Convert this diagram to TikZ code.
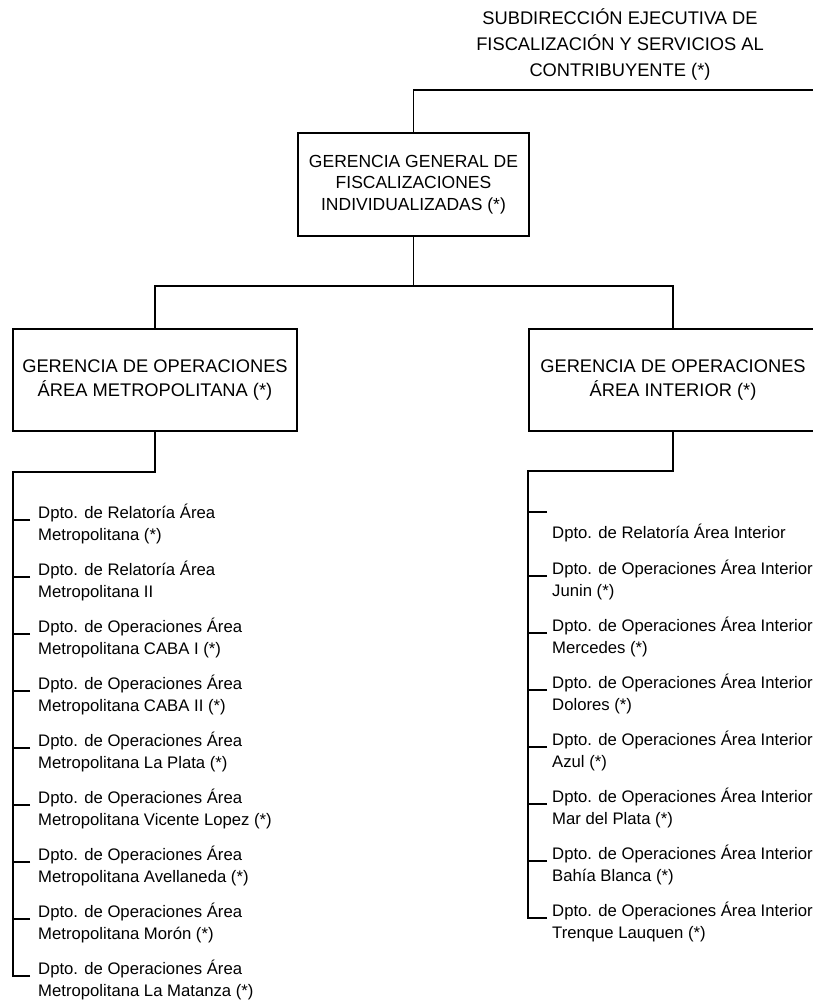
\documentclass[tikz,border=0pt]{standalone}
\usepackage{fontspec}
\setmainfont{Liberation Sans}

\begin{document}
\begin{tikzpicture}[x=1pt, y=-1pt,
        box/.style={draw, line width=2.2pt, inner sep=0pt, align=center, minimum width=284pt, minimum height=102pt, font=\fontsize{18.3}{24}\selectfont},
        head/.style={inner sep=0pt, align=center, font=\fontsize{18.3}{26}\selectfont},
        dpto/.style={anchor=base west, inner sep=0pt, align=left, font=\fontsize{16.7}{22}\selectfont},
        wire/.style={line width=1.2pt}]
        \useasboundingbox (0,0) rectangle (813,1003);

        % Boxes:
        \node[head] (sub) at (620,44) {SUBDIRECCIÓN EJECUTIVA DE\\FISCALIZACIÓN Y SERVICIOS AL\\CONTRIBUYENTE (*)};
        \node[box, minimum width=231pt, minimum height=103pt, font=\fontsize{17.5}{21.5}\selectfont] (ggfi) at (413.5,184.5) {GERENCIA GENERAL DE\\FISCALIZACIONES\\INDIVIDUALIZADAS (*)};
        \node[box] (gom) at (155,380) {GERENCIA DE OPERACIONES\\ÁREA METROPOLITANA (*)};
        \node[box, minimum width=288pt] (goi) at (673,380) {GERENCIA DE OPERACIONES\\ÁREA INTERIOR (*)};

        % Wires between boxes:
        \coordinate (edge) at (820,90);
        \coordinate (split) at (413.5,286);
        \draw[wire] (ggfi.north) |- (edge);
        \draw[wire] (ggfi.south) -- (split);
        \draw[wire] (gom.north) |- (split) -| (goi.north);

        % Departamentos, Area Metropolitana:
        \foreach \txt [count=\i from 0] in {%
            {Dpto. de Relatoría Área\\Metropolitana (*)},
            {Dpto. de Relatoría Área\\Metropolitana II},
            {Dpto. de Operaciones Área\\Metropolitana CABA I (*)},
            {Dpto. de Operaciones Área\\Metropolitana CABA II (*)},
            {Dpto. de Operaciones Área\\Metropolitana La Plata (*)},
            {Dpto. de Operaciones Área\\Metropolitana Vicente Lopez (*)},
            {Dpto. de Operaciones Área\\Metropolitana Avellaneda (*)},
            {Dpto. de Operaciones Área\\Metropolitana Morón (*)},
            {Dpto. de Operaciones Área\\Metropolitana La Matanza (*)}}{
            \node[dpto] (m\i) at (38,540+57*\i) {\txt};
            \draw[wire] (m\i.base west) ++(-8,-20) -- ++(-17.6,0);
        }
        \coordinate (mtop) at (13,472);
        \coordinate (mend) at (13,976.6);
        \draw[wire] (gom.south) |- (mtop) -- (mend);

        % Departamentos, Area Interior:
        \node[dpto] (i0) at (552,538) {Dpto. de Relatoría Área Interior};
        \draw[wire] (i0.base west) ++(-5,-26) -- ++(-19.6,0);
        \foreach \txt [count=\i from 1] in {%
            {Dpto. de Operaciones Área Interior\\Junin (*)},
            {Dpto. de Operaciones Área Interior\\Mercedes (*)},
            {Dpto. de Operaciones Área Interior\\Dolores (*)},
            {Dpto. de Operaciones Área Interior\\Azul (*)},
            {Dpto. de Operaciones Área Interior\\Mar del Plata (*)},
            {Dpto. de Operaciones Área Interior\\Bahía Blanca (*)},
            {Dpto. de Operaciones Área Interior\\Trenque Lauquen (*)}}{
            \node[dpto] (i\i) at (552,539+57*\i) {\txt};
            \draw[wire] (i\i.base west) ++(-5,-20) -- ++(-19.6,0);
        }
        \coordinate (itop) at (528,471);
        \coordinate (iend) at (528,918.6);
        \draw[wire] (goi.south) |- (itop) -- (iend);
    \end{tikzpicture}
\end{document}
